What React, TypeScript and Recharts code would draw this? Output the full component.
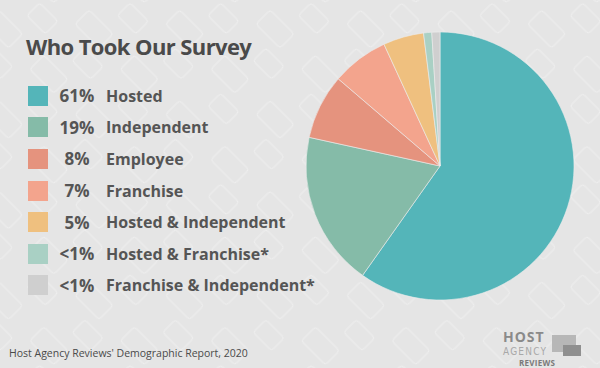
import React from "react";
import { PieChart, Pie, Cell } from "recharts";

// ---- data ----
const categories = [
  "Hosted",
  "Independent",
  "Employee",
  "Franchise",
  "Hosted & Independent",
  "Hosted & Franchise*",
  "Franchise & Independent*",
];
const shares = [61, 19, 8, 7, 5, 1, 1];
const shareLabels = ["61%", "19%", "8%", "7%", "5%", "<1%", "<1%"];
const colors = ["#54b5b9", "#85bba8", "#e5937e", "#f3a48d", "#efc07f", "#a9d0c4", "#cfcfcf"];

const TEXT = "#4a4a4a";
const FONT = "'Open Sans', 'Noto Sans', sans-serif";

const data = categories.map((name, i) => ({
  name,
  value: shares[i],
  label: shareLabels[i],
}));

function SurveyLegend() {
  return (
    <div style={{ fontFamily: FONT }}>
      {data.map((d, i) => (
        <div
          key={d.name}
          style={{ display: "flex", alignItems: "center", height: 31.6 }}
        >
          <div style={{ width: 20, height: 20, background: colors[i] }} />
          <div
            style={{
              width: 58,
              textAlign: "center",
              fontSize: 17,
              fontWeight: 700,
              color: "#555",
            }}
          >
            {d.label}
          </div>
          <div style={{ fontSize: 16, fontWeight: 700, color: "#555" }}>
            {d.name}
          </div>
        </div>
      ))}
    </div>
  );
}

function Backdrop() {
  return (
    <svg width={600} height={368} style={{ position: "absolute", left: 0, top: 0 }}>
      <defs>
        <pattern
          id="bg"
          width={64}
          height={64}
          patternUnits="userSpaceOnUse"
          patternTransform="rotate(45)"
        >
          <rect x={6} y={8} width={34} height={20} rx={3} fill="none" stroke="#fff" strokeOpacity={0.35} />
          <rect x={30} y={38} width={26} height={18} rx={3} fill="none" stroke="#fff" strokeOpacity={0.35} />
        </pattern>
      </defs>
      <rect width={600} height={368} fill="#e5e5e5" />
      <rect width={600} height={368} fill="url(#bg)" />
    </svg>
  );
}

export default function App() {
  return (
    <div
      style={{
        position: "absolute",
        left: 0,
        top: 0,
        width: 600,
        height: 368,
        overflow: "hidden",
        fontFamily: FONT,
      }}
    >
      <Backdrop />
      <div
        style={{
          position: "absolute",
          left: 26,
          top: 31,
          fontSize: 22,
          fontWeight: 700,
          color: TEXT,
          letterSpacing: -0.6,
        }}
      >
        Who Took Our Survey
      </div>
      <div style={{ position: "absolute", left: 0, top: 0 }}>
        <PieChart width={600} height={368} margin={{ top: 0, right: 0, bottom: 0, left: 0 }}>
          <Pie
            data={data}
            dataKey="value"
            nameKey="name"
            cx={440}
            cy={166}
            outerRadius={134}
            startAngle={90}
            endAngle={-270}
            stroke="#ececec"
            strokeWidth={0.6}
            isAnimationActive={false}
          >
            {data.map((d, i) => (
              <Cell key={d.name} fill={colors[i]} />
            ))}
          </Pie>
        </PieChart>
      </div>
      <div style={{ position: "absolute", left: 28, top: 80 }}>
        <SurveyLegend />
      </div>
      <div
        style={{
          position: "absolute",
          left: 9,
          top: 346,
          fontSize: 10.5,
          color: TEXT,
        }}
      >
        Host Agency Reviews' Demographic Report, 2020
      </div>
      <div style={{ position: "absolute", left: 503, top: 327, width: 90, height: 41 }}>
        <div style={{ position: "absolute", left: 49, top: 8, width: 24, height: 17, background: "#b7b7b7" }} />
        <div style={{ position: "absolute", left: 60, top: 18, width: 18, height: 11, background: "#8f8f8f" }} />
        <div style={{ position: "absolute", left: 0, top: 0, fontSize: 14, fontWeight: 700, color: "#8a8a8a", lineHeight: "19px", letterSpacing: 1 }}>
          HOST
        </div>
        <div style={{ position: "absolute", left: 0, top: 19, fontSize: 10, color: "#a8a8a8", lineHeight: "11px", letterSpacing: 1.2, fontFamily: "'DejaVu Sans Condensed', sans-serif" }}>
          AGENCY
        </div>
        <div style={{ position: "absolute", left: 16, top: 30, fontSize: 8, fontWeight: 700, color: "#7a7a7a", lineHeight: "11px", letterSpacing: 0.3 }}>
          REVIEWS
        </div>
      </div>
    </div>
  );
}
